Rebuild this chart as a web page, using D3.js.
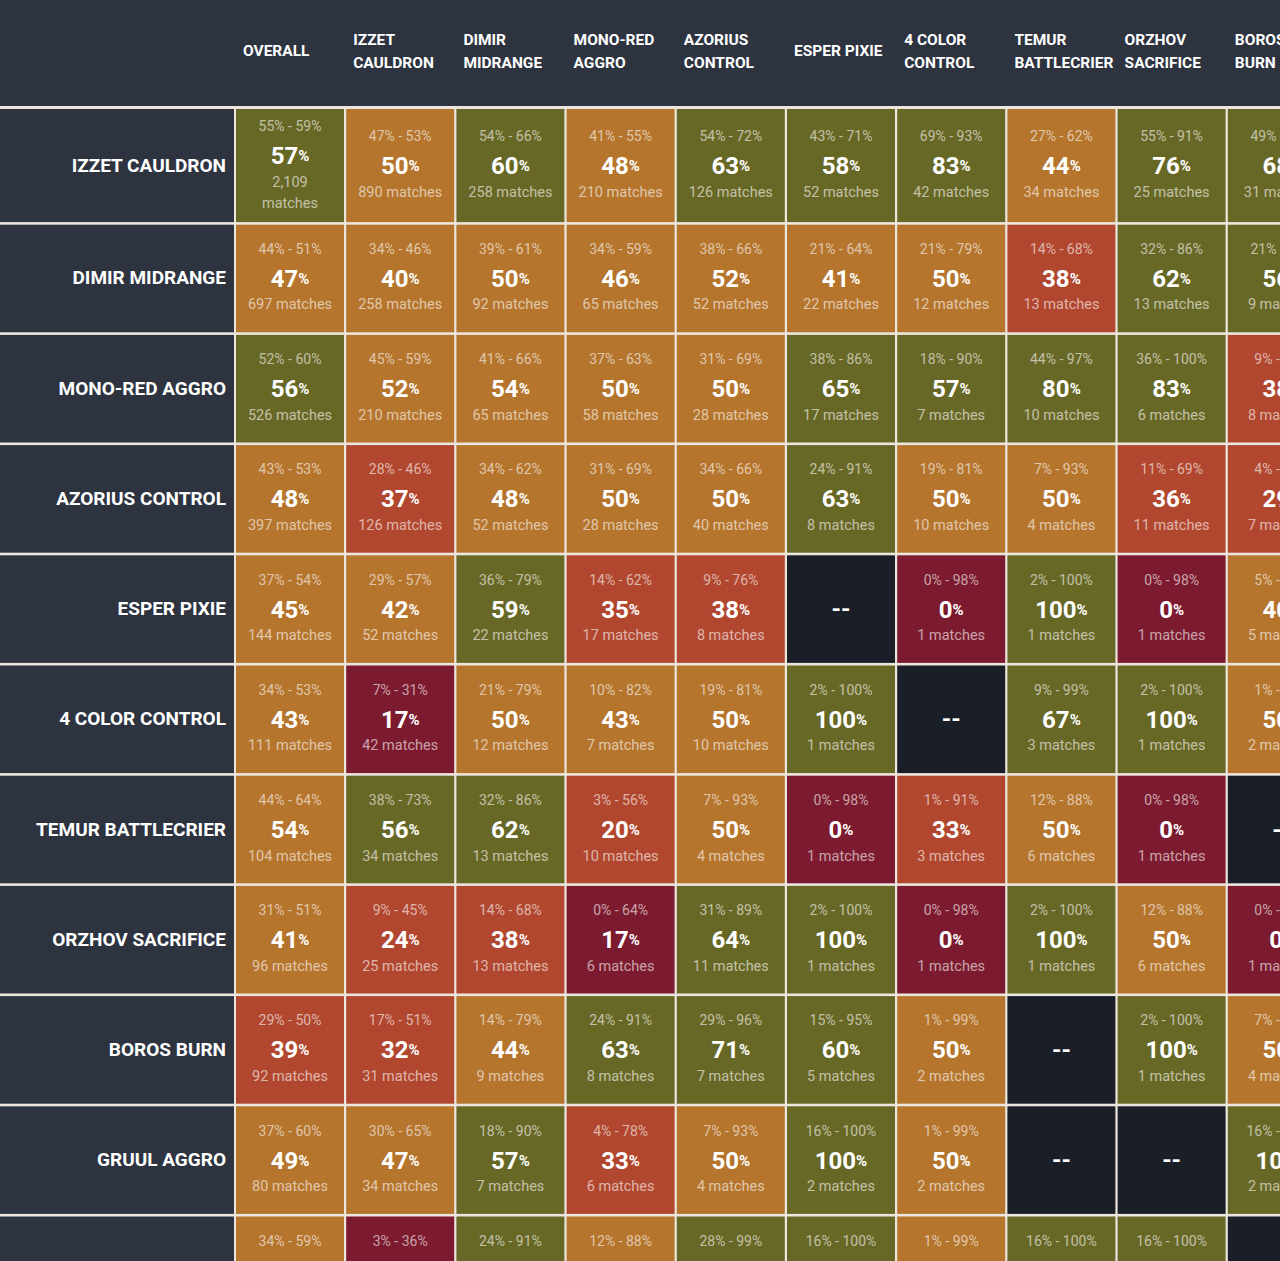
<!DOCTYPE html>
<html>
<head>
<meta charset="utf-8">
<script src="https://cdn.jsdelivr.net/npm/d3@7"></script>
<style>
  body { margin: 0; background: #ece6df; overflow: hidden; }
  svg { display: block; font-family: Roboto, sans-serif; }
</style>
</head>
<body>
<div id="matrix"></div>
<script>
// decks (rows) and opponents (columns)
const decks = [
  'IZZET CAULDRON', 'DIMIR MIDRANGE', 'MONO-RED AGGRO', 'AZORIUS CONTROL',
  'ESPER PIXIE', '4 COLOR CONTROL', 'TEMUR BATTLECRIER', 'ORZHOV SACRIFICE',
  'BOROS BURN', 'GRUUL AGGRO', 'SIMIC OMENPATHS'
];
const columns = [
  'OVERALL', 'IZZET CAULDRON', 'DIMIR MIDRANGE', 'MONO-RED AGGRO', 'AZORIUS CONTROL',
  'ESPER PIXIE', '4 COLOR CONTROL', 'TEMUR BATTLECRIER', 'ORZHOV SACRIFICE', 'BOROS BURN'
];

// win rate %, null = no data
const winRates = [
  [57, 50, 60, 48, 63, 58, 83, 44, 76, 68],
  [47, 40, 50, 46, 52, 41, 50, 38, 62, 56],
  [56, 52, 54, 50, 50, 65, 57, 80, 83, 38],
  [48, 37, 48, 50, 50, 63, 50, 50, 36, 29],
  [45, 42, 59, 35, 38, null, 0, 100, 0, 40],
  [43, 17, 50, 43, 50, 100, null, 67, 100, 50],
  [54, 56, 62, 20, 50, 0, 33, 50, 0, null],
  [41, 24, 38, 17, 64, 100, 0, 100, 50, 0],
  [39, 32, 44, 63, 71, 60, 50, null, 100, 50],
  [49, 47, 57, 33, 50, 100, 50, null, null, 100],
  [46, 14, 63, 50, 80, 100, 50, 100, 100, null]
];
const lowerBounds = [
  [55, 47, 54, 41, 54, 43, 69, 27, 55, 49],
  [44, 34, 39, 34, 38, 21, 21, 14, 32, 21],
  [52, 45, 41, 37, 31, 38, 18, 44, 36, 9],
  [43, 28, 34, 31, 34, 24, 19, 7, 11, 4],
  [37, 29, 36, 14, 9, null, 0, 2, 0, 5],
  [34, 7, 21, 10, 19, 2, null, 9, 2, 1],
  [44, 38, 32, 3, 7, 0, 1, 12, 0, null],
  [31, 9, 14, 0, 31, 2, 0, 2, 12, 0],
  [29, 17, 14, 24, 29, 15, 1, null, 2, 7],
  [37, 30, 18, 4, 7, 16, 1, null, null, 16],
  [34, 3, 24, 12, 28, 16, 1, 16, 16, null]
];
const upperBounds = [
  [59, 53, 66, 55, 72, 71, 93, 62, 91, 83],
  [51, 46, 61, 59, 66, 64, 79, 68, 86, 86],
  [60, 59, 66, 63, 69, 86, 90, 97, 100, 76],
  [53, 46, 62, 69, 66, 91, 81, 93, 69, 71],
  [54, 57, 79, 62, 76, null, 98, 100, 98, 85],
  [53, 31, 79, 82, 81, 100, null, 99, 100, 99],
  [64, 73, 86, 56, 93, 98, 91, 88, 98, null],
  [51, 45, 68, 64, 89, 100, 98, 100, 88, 98],
  [50, 51, 79, 91, 96, 95, 99, null, 100, 93],
  [60, 65, 90, 78, 93, 100, 99, null, null, 100],
  [59, 36, 91, 88, 99, 100, 99, 100, 100, null]
];
const matchCounts = [
  [2109, 890, 258, 210, 126, 52, 42, 34, 25, 31],
  [697, 258, 92, 65, 52, 22, 12, 13, 13, 9],
  [526, 210, 65, 58, 28, 17, 7, 10, 6, 8],
  [397, 126, 52, 28, 40, 8, 10, 4, 11, 7],
  [144, 52, 22, 17, 8, null, 1, 1, 1, 5],
  [111, 42, 12, 7, 10, 1, null, 3, 1, 2],
  [104, 34, 13, 10, 4, 1, 3, 6, 1, null],
  [96, 25, 13, 6, 11, 1, 1, 1, 6, 1],
  [92, 31, 9, 8, 7, 5, 2, null, 1, 4],
  [80, 34, 7, 6, 4, 2, 2, null, null, 2],
  [65, 21, 8, 6, 5, 2, 2, 2, 2, null]
];

const width = 1280, height = 1261;
const headerHeight = 106;
const labelWidth = 234;
const wrapExtra = 5.5;

const bg = '#2d3440';
const emptyFill = '#1a1e27';
const color = v => v >= 55 ? '#686826' : v >= 40 ? '#b5752d' : v >= 20 ? '#b1472f' : '#7c1b2f';
const fmt = d3.format(',');

const svg = d3.select('#matrix').append('svg')
  .attr('width', width)
  .attr('height', height);

// measuring helper
const probe = svg.append('text').attr('visibility', 'hidden');
function measure(str, size, weight) {
  probe.attr('font-size', size).attr('font-weight', weight).text(str);
  return probe.node().getComputedTextLength();
}

// scales
const x = d3.scaleBand()
  .domain(columns)
  .range([236, 236 + 110.2 * columns.length - 2.2])
  .paddingInner(0.02);
const y = d3.scaleBand()
  .domain(decks)
  .range([109, 109 + 110.2 * decks.length - 2.6])
  .paddingInner(0.0236);

// does the row need a wrapped "matches" line?
const matchesText = n => fmt(n) + ' matches';
const wraps = n => n != null && measure(matchesText(n), 14.5, 400) > 90;
const rowWrapped = matchCounts.map(r => r.some(wraps));
const rowTop = i => y(decks[i]) + wrapExtra * d3.sum(rowWrapped.slice(0, i), d => d ? 1 : 0);
const rowHeight = i => y.bandwidth() + (rowWrapped[i] ? wrapExtra : 0);

// header band
svg.append('rect')
  .attr('x', 0).attr('y', 0)
  .attr('width', width).attr('height', headerHeight)
  .attr('fill', bg);

columns.forEach(col => {
  const words = col.split(' ');
  const lines = [];
  let line = '';
  words.forEach(w => {
    const test = line ? line + ' ' + w : w;
    if (line && measure(test, 15.5, 700) > 94) {
      lines.push(line);
      line = w;
    } else {
      line = test;
    }
  });
  lines.push(line);
  const t = svg.append('text')
    .attr('font-size', 15.5)
    .attr('font-weight', 700)
    .attr('fill', '#fff');
  lines.forEach((l, i) => {
    t.append('tspan')
      .attr('x', x(col) + 7)
      .attr('y', 51 + (i - (lines.length - 1) / 2) * 23)
      .attr('dominant-baseline', 'central')
      .text(l);
  });
});

// rows
decks.forEach((deck, i) => {
  const top = rowTop(i), h = rowHeight(i), cy = top + h / 2;

  svg.append('rect')
    .attr('x', 0).attr('y', top)
    .attr('width', labelWidth).attr('height', h)
    .attr('fill', bg);

  svg.append('text')
    .attr('x', labelWidth - 8)
    .attr('y', cy - 0.5)
    .attr('text-anchor', 'end')
    .attr('dominant-baseline', 'central')
    .attr('font-size', 19)
    .attr('font-weight', 700)
    .attr('fill', '#fff')
    .text(deck);

  columns.forEach((col, j) => {
    const v = winRates[i][j];
    const cx = x(col) + x.bandwidth() / 2;
    const g = svg.append('g');

    g.append('rect')
      .attr('x', x(col)).attr('y', top)
      .attr('width', x.bandwidth()).attr('height', h)
      .attr('fill', v == null ? emptyFill : color(v));

    if (v == null) {
      g.append('text')
        .attr('x', cx).attr('y', cy)
        .attr('text-anchor', 'middle')
        .attr('dominant-baseline', 'central')
        .attr('font-size', 24)
        .attr('font-weight', 700)
        .attr('fill', '#fff')
        .text('--');
      return;
    }

    const n = matchCounts[i][j];
    const wrapped = wraps(n);
    const off = wrapped ? -10 : 0;
    const dim = 'rgba(255,255,255,0.6)';

    g.append('text')
      .attr('x', cx).attr('y', cy + off - 29.5)
      .attr('text-anchor', 'middle')
      .attr('dominant-baseline', 'central')
      .attr('font-size', 14)
      .attr('fill', dim)
      .text(lowerBounds[i][j] + '% - ' + upperBounds[i][j] + '%');

    const val = g.append('text')
      .attr('x', cx).attr('y', cy + off + 0.5)
      .attr('text-anchor', 'middle')
      .attr('dominant-baseline', 'central')
      .attr('font-weight', 700)
      .attr('fill', '#fff');
    val.append('tspan').attr('font-size', 24).text(v);
    val.append('tspan').attr('font-size', 15).text('%');

    const mLines = wrapped ? [fmt(n), 'matches'] : [matchesText(n)];
    mLines.forEach((l, k) => {
      g.append('text')
        .attr('x', cx).attr('y', cy + off + 26.5 + k * 21)
        .attr('text-anchor', 'middle')
        .attr('dominant-baseline', 'central')
        .attr('font-size', 14.5)
        .attr('fill', dim)
        .text(l);
    });
  });
});

probe.remove();
</script>
</body>
</html>
